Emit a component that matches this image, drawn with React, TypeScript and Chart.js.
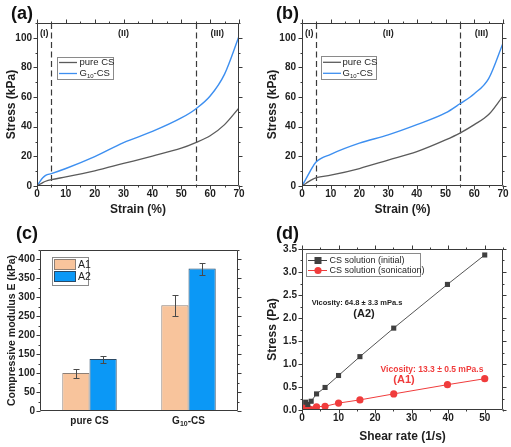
import React, { useEffect, useRef } from "react";
import { Chart, registerables } from "chart.js";
Chart.register(...registerables);

const FONT = "Arial, 'Liberation Sans', Helvetica, sans-serif";

// ---------- Data: panel (a) ----------
const strainA = [0, 1, 2, 3, 5, 10, 20, 30, 40, 50, 55, 60, 65, 70];
const pureA = [0, 1.2, 2.3, 3.2, 4.3, 6.1, 10.2, 15.2, 20.2, 25.5, 29.3, 33.9, 41.4, 52.7];
const g10A = [0, 3, 5.5, 7.2, 8.4, 11.8, 19.8, 29.3, 36.8, 45.9, 52, 60.7, 75.5, 101];

// ---------- Data: panel (b) ----------
const strainB = [0, 1, 2, 3, 4, 5, 10, 20, 30, 40, 50, 55, 60, 65, 70];
const pureB = [0, 1.3, 2.6, 3.8, 4.8, 5.6, 7.3, 11.8, 17.5, 23.2, 31.1, 35.7, 41.4, 48.2, 60.7];
const g10B = [0, 3.5, 7, 10.5, 13.8, 16.4, 21.4, 28.9, 34.5, 41.4, 49.3, 55.5, 62.3, 72.5, 96.4];

const strainSeries = ["pure CS", "G_{10}-CS"];
const regionLabels = ["(I)", "(II)", "(III)"];
const regionBounds = [5, 55];
const strainXTicks = [0, 10, 20, 30, 40, 50, 60, 70];
const strainYTicks = [0, 20, 40, 60, 80, 100];

// ---------- Data: panel (c) ----------
const modulusGroups = ["pure CS", "G_{10}-CS"];
const modulusSeries = ["A1", "A2"];
const modA1 = [100, 279];
const modA1Err = [12, 28];
const modA2 = [137, 376];
const modA2Err = [9, 16];
const modulusYTicks = [0, 50, 100, 150, 200, 250, 300, 350, 400];

// ---------- Data: panel (d) ----------
const shearRate = [1, 1.58, 2.51, 3.98, 6.31, 10, 15.85, 25.1, 39.8, 50];
const stressInitial = [0.17, 0.12, 0.19, 0.35, 0.49, 0.75, 1.16, 1.78, 2.73, 3.37];
const stressSonication = [0.06, 0.04, 0.01, 0.07, 0.08, 0.15, 0.22, 0.35, 0.55, 0.68];
const viscSeries = ["CS solution (initial)", "CS solution (sonication)"];
const viscNotes = ["Vicosity: 64.8 ± 3.3 mPa.s", "(A2)", "Vicosity: 13.3 ± 0.5 mPa.s", "(A1)"];
const shearXTicks = [0, 10, 20, 30, 40, 50];
const shearYTicks = [0, 0.5, 1, 1.5, 2, 2.5, 3, 3.5];

// ---------- colours ----------
const GREY = "#5b5b5b";
const BLUE = "#3d8ff0";
const PEACH = "#f8c49c";
const BAR_BLUE = "#0b98f6";
const DARK = "#404040";
const RED = "#f03c3c";
const INK = "#1e1e1e";

// ---------- helpers ----------
type Seg = { t: string; sub: boolean };
function parseRich(s: string): Seg[] {
  const out: Seg[] = [];
  const re = /_\{([^}]*)\}/g;
  let last = 0;
  let m: RegExpExecArray | null;
  while ((m = re.exec(s))) {
    if (m.index > last) out.push({ t: s.slice(last, m.index), sub: false });
    out.push({ t: m[1], sub: true });
    last = re.lastIndex;
  }
  if (last < s.length) out.push({ t: s.slice(last), sub: false });
  return out;
}
function drawRich(ctx: CanvasRenderingContext2D, s: string, x: number, y: number, size: number, weight: string, color: string, align: "left" | "center") {
  const segs = parseRich(s);
  const main = `${weight} ${size}px ${FONT}`;
  const subF = `${weight} ${Math.round(size * 0.68)}px ${FONT}`;
  let w = 0;
  for (const g of segs) {
    ctx.font = g.sub ? subF : main;
    w += ctx.measureText(g.t).width;
  }
  let cx = align === "center" ? x - w / 2 : x;
  ctx.fillStyle = color;
  ctx.textBaseline = "middle";
  ctx.textAlign = "left";
  for (const g of segs) {
    ctx.font = g.sub ? subF : main;
    ctx.fillText(g.t, cx, g.sub ? y + size * 0.28 : y);
    cx += ctx.measureText(g.t).width;
  }
}

function framePlugin(o: { yStep: number; yMinor: number; xStep?: number; xMinor?: number }) {
  return {
    id: "frame",
    afterDraw(chart: any) {
      const { ctx, chartArea: a, scales } = chart;
      const L = Math.round(a.left) + 0.5;
      const R = Math.round(a.right) - 0.5;
      const T = Math.round(a.top) + 0.5;
      const B = Math.round(a.bottom) - 0.5;
      ctx.save();
      ctx.strokeStyle = "#3a3a3a";
      ctx.lineWidth = 1;
      ctx.beginPath();
      ctx.rect(L, T, R - L, B - T);
      ctx.stroke();
      ctx.beginPath();
      const ys = scales.y;
      const ny = Math.round((ys.max - ys.min) / o.yMinor);
      for (let i = 0; i <= ny; i++) {
        const v = ys.min + i * o.yMinor;
        const r = v / o.yStep;
        const major = Math.abs(r - Math.round(r)) < 1e-6;
        const len = major ? 4 : 2;
        const p = Math.round(ys.getPixelForValue(v)) + 0.5;
        ctx.moveTo(L, p);
        ctx.lineTo(L - len, p);
        ctx.moveTo(R, p);
        ctx.lineTo(R + len, p);
      }
      if (o.xStep && o.xMinor) {
        const xs = scales.x;
        const nx = Math.round((xs.max - xs.min) / o.xMinor);
        for (let i = 0; i <= nx; i++) {
          const v = xs.min + i * o.xMinor;
          const r = v / o.xStep;
          const major = Math.abs(r - Math.round(r)) < 1e-6;
          const len = major ? 4 : 2;
          const p = Math.round(xs.getPixelForValue(v)) + 0.5;
          ctx.moveTo(p, B);
          ctx.lineTo(p, B + len);
          ctx.moveTo(p, T);
          ctx.lineTo(p, T - len);
        }
      }
      ctx.stroke();
      ctx.restore();
    },
  };
}

function tickFont(size = 10) {
  return { family: FONT, size, weight: "bold" as const };
}

function baseAxes(o: {
  W: number; H: number; area: { l: number; t: number; r: number; b: number };
  xMin: number; xMax: number; xTicks: number[]; yMin: number; yMax: number; yTicks: number[];
  xTitle: string; yTitle: string; xTitleY: number; yTitleX: number; yPad: number; xPad: number;
  yFmt?: (v: number) => string; yTitleSize?: number; xType?: string; xTicksDisplay?: boolean;
}) {
  const yts = o.yTitleSize ?? 12;
  const x: any = {
    type: o.xType ?? "linear",
    afterFit: (s: any) => { s.height = o.H - o.area.b; },
    grid: { display: false, drawTicks: false },
    border: { display: false },
    ticks: { display: o.xTicksDisplay ?? true, autoSkip: false, maxRotation: 0, padding: o.xPad, font: tickFont(10), color: INK },
    title: { display: true, text: o.xTitle, color: INK, font: { family: FONT, size: 12, weight: "bold" }, padding: { top: 0, bottom: o.H - o.xTitleY - 7.2 } },
  };
  if ((o.xType ?? "linear") === "linear") {
    x.min = o.xMin;
    x.max = o.xMax;
    x.afterBuildTicks = (s: any) => { s.ticks = o.xTicks.map((v) => ({ value: v })); };
  } else {
    x.offset = true;
  }
  const y: any = {
    type: "linear",
    min: o.yMin,
    max: o.yMax,
    afterFit: (s: any) => { s.width = o.area.l; },
    afterBuildTicks: (s: any) => { s.ticks = o.yTicks.map((v) => ({ value: v })); },
    grid: { display: false, drawTicks: false },
    border: { display: false },
    ticks: { autoSkip: false, padding: o.yPad, font: tickFont(10), color: INK, callback: o.yFmt ?? ((v: any) => String(v)) },
    title: { display: true, text: o.yTitle, color: INK, font: { family: FONT, size: yts, weight: "bold" }, padding: { top: o.yTitleX - (yts * 1.2) / 2, bottom: 0 } },
  };
  return { x, y };
}

// ---------- Strain panels (a), (b) ----------
type StrainLayout = {
  W: number; H: number; area: { l: number; t: number; r: number; b: number };
  panel: string; panelX: number; panelY: number; yTitleX: number; yPad: number;
  legend: { x: number; y: number; w: number; h: number; l0: number; l1: number; tx: number; rows: number[] };
};

function strainConfig(strain: number[], pure: number[], g10: number[], L: StrainLayout): any {
  const axes = baseAxes({
    W: L.W, H: L.H, area: L.area, xMin: 0, xMax: 70, xTicks: strainXTicks, yMin: 0, yMax: 110, yTicks: strainYTicks,
    xTitle: "Strain (%)", yTitle: "Stress (kPa)", xTitleY: 210, yTitleX: L.yTitleX, yPad: L.yPad, xPad: 2,
  });
  const deco = {
    id: "deco",
    beforeDatasetsDraw(chart: any) {
      const { ctx, chartArea: a, scales } = chart;
      ctx.save();
      ctx.strokeStyle = "#3a3a3a";
      ctx.lineWidth = 1.2;
      ctx.setLineDash([6, 3.5]);
      for (const v of regionBounds) {
        const p = Math.round(scales.x.getPixelForValue(v)) + 0.5;
        ctx.beginPath();
        ctx.moveTo(p, a.top);
        ctx.lineTo(p, a.bottom);
        ctx.stroke();
      }
      ctx.restore();
    },
    afterDraw(chart: any) {
      const { ctx, chartArea: a, scales } = chart;
      ctx.save();
      const edges = [0, ...regionBounds, 70];
      regionLabels.forEach((t, i) => {
        const c = scales.x.getPixelForValue((edges[i] + edges[i + 1]) / 2);
        drawRich(ctx, t, c, a.top + 11, 9, "bold", INK, "center");
      });
      drawRich(ctx, L.panel, L.panelX, L.panelY, 18, "bold", "#111", "left");
      const lg = L.legend;
      ctx.fillStyle = "#fff";
      ctx.fillRect(lg.x, lg.y, lg.w, lg.h);
      ctx.strokeStyle = "#8a8a8a";
      ctx.lineWidth = 1;
      ctx.strokeRect(lg.x + 0.5, lg.y + 0.5, lg.w, lg.h);
      [GREY, BLUE].forEach((c, i) => {
        ctx.strokeStyle = c;
        ctx.lineWidth = 1.3;
        ctx.beginPath();
        ctx.moveTo(lg.l0, lg.rows[i]);
        ctx.lineTo(lg.l1, lg.rows[i]);
        ctx.stroke();
        drawRich(ctx, strainSeries[i], lg.tx, lg.rows[i], 9.5, "normal", INK, "left");
      });
      ctx.restore();
    },
  };
  return {
    type: "line",
    data: {
      datasets: [
        { label: strainSeries[0], data: strain.map((x, i) => ({ x, y: pure[i] })), borderColor: GREY, borderWidth: 1.3, pointRadius: 0, cubicInterpolationMode: "monotone" },
        { label: strainSeries[1], data: strain.map((x, i) => ({ x, y: g10[i] })), borderColor: BLUE, borderWidth: 1.4, pointRadius: 0, cubicInterpolationMode: "monotone" },
      ],
    },
    options: {
      animation: false, responsive: false, events: [],
      layout: { padding: { left: 0, top: L.area.t, right: L.W - L.area.r, bottom: 0 } },
      plugins: { legend: { display: false }, tooltip: { enabled: false } },
      scales: axes,
    },
    plugins: [deco, framePlugin({ yStep: 20, yMinor: 10, xStep: 10, xMinor: 5 })],
  };
}

const layoutA: StrainLayout = {
  W: 256, H: 224, area: { l: 37, t: 23, r: 239, b: 186 }, panel: "(a)", panelX: 11, panelY: 14, yTitleX: 12, yPad: 5,
  legend: { x: 57, y: 57, w: 56, h: 22, l0: 59, l1: 77, tx: 79.5, rows: [62.5, 73.5] },
};
const layoutB: StrainLayout = {
  W: 255, H: 224, area: { l: 46, t: 23, r: 247, b: 186 }, panel: "(b)", panelX: 20, panelY: 14, yTitleX: 17, yPad: 6,
  legend: { x: 65, y: 56, w: 55, h: 23, l0: 67, l1: 85, tx: 86.5, rows: [62.3, 73.3] },
};

// ---------- Modulus panel (c) ----------
function modulusConfig(): any {
  const W = 256, H = 223;
  const area = { l: 40, t: 26, r: 238, b: 187 };
  const axes = baseAxes({
    W, H, area, xMin: 0, xMax: 1, xTicks: [], yMin: 0, yMax: 425, yTicks: modulusYTicks,
    xTitle: "", yTitle: "Compressive modulus E (kPa)", xTitleY: 215, yTitleX: 12, yPad: 5, xPad: 2,
    yTitleSize: 10.5, xType: "category", xTicksDisplay: false,
  });
  axes.x.title = { display: false };
  const deco = {
    id: "deco",
    afterDatasetsDraw(chart: any) {
      const { ctx, scales } = chart;
      ctx.save();
      ctx.strokeStyle = "#4a4a4a";
      ctx.lineWidth = 1;
      [modA1Err, modA2Err].forEach((errs, di) => {
        const meta = chart.getDatasetMeta(di);
        const vals = di === 0 ? modA1 : modA2;
        meta.data.forEach((bar: any, j: number) => {
          const x = Math.round(bar.x) + 0.5;
          const yt = Math.round(scales.y.getPixelForValue(vals[j] + errs[j])) + 0.5;
          const yb = Math.round(scales.y.getPixelForValue(vals[j] - errs[j])) + 0.5;
          ctx.beginPath();
          ctx.moveTo(x, yt); ctx.lineTo(x, yb);
          ctx.moveTo(x - 3, yt); ctx.lineTo(x + 3, yt);
          ctx.moveTo(x - 3, yb); ctx.lineTo(x + 3, yb);
          ctx.stroke();
        });
      });
      ctx.restore();
    },
    afterDraw(chart: any) {
      const { ctx, scales } = chart;
      ctx.save();
      modulusGroups.forEach((g, i) => {
        drawRich(ctx, g, scales.x.getPixelForValue(i), 197, 10, "bold", INK, "center");
      });
      drawRich(ctx, "(c)", 16, 10, 18, "bold", "#111", "left");
      // legend
      ctx.fillStyle = "#fff";
      ctx.fillRect(52, 33, 36, 28);
      ctx.strokeStyle = "#8a8a8a";
      ctx.lineWidth = 1;
      ctx.strokeRect(52.5, 33.5, 36, 28);
      [[PEACH, "#8c7f76"], [BAR_BLUE, "#2a4a66"]].forEach(([f, b], i) => {
        const y = 35 + i * 12;
        ctx.fillStyle = f;
        ctx.fillRect(54, y, 22, 11);
        ctx.strokeStyle = b;
        ctx.strokeRect(54.5, y + 0.5, 21, 10);
        drawRich(ctx, modulusSeries[i], 78, y + 6, 10.5, "normal", INK, "left");
      });
      ctx.restore();
    },
  };
  return {
    type: "bar",
    data: {
      labels: modulusGroups,
      datasets: [
        { label: modulusSeries[0], data: modA1, backgroundColor: PEACH, borderColor: "#8c7f76", borderWidth: 1, categoryPercentage: 0.55, barPercentage: 1 },
        { label: modulusSeries[1], data: modA2, backgroundColor: BAR_BLUE, borderColor: "#2a4a66", borderWidth: 1, categoryPercentage: 0.55, barPercentage: 1 },
      ],
    },
    options: {
      animation: false, responsive: false, events: [],
      layout: { padding: { left: 0, top: area.t, right: W - area.r, bottom: 0 } },
      plugins: { legend: { display: false }, tooltip: { enabled: false } },
      scales: axes,
    },
    plugins: [deco, framePlugin({ yStep: 50, yMinor: 25 })],
  };
}

// ---------- Viscosity panel (d) ----------
function viscConfig(): any {
  const W = 255, H = 223;
  const area = { l: 46, t: 25, r: 247, b: 186 };
  const axes = baseAxes({
    W, H, area, xMin: 0, xMax: 55, xTicks: shearXTicks, yMin: 0, yMax: 3.5, yTicks: shearYTicks,
    xTitle: "Shear rate (1/s)", yTitle: "Stress (Pa)", xTitleY: 213, yTitleX: 17, yPad: 5, xPad: 2,
    yFmt: (v: number) => v.toFixed(1),
  });
  const deco = {
    id: "deco",
    afterDraw(chart: any) {
      const { ctx } = chart;
      ctx.save();
      drawRich(ctx, "(d)", 20, 10.5, 18, "bold", "#111", "left");
      // legend
      ctx.fillStyle = "#fff";
      ctx.fillRect(50, 29, 114, 23);
      ctx.strokeStyle = "#8a8a8a";
      ctx.lineWidth = 1;
      ctx.strokeRect(50.5, 29.5, 114, 23);
      [[DARK, "rect"], [RED, "circle"]].forEach(([c, s], i) => {
        const y = 36 + i * 10;
        ctx.strokeStyle = c;
        ctx.fillStyle = c;
        ctx.lineWidth = 1;
        ctx.beginPath();
        ctx.moveTo(52, y + 0.5);
        ctx.lineTo(71, y + 0.5);
        ctx.stroke();
        if (s === "rect") ctx.fillRect(58.5, y - 3, 7, 7);
        else { ctx.beginPath(); ctx.arc(62, y + 0.5, 3.6, 0, Math.PI * 2); ctx.fill(); }
        drawRich(ctx, viscSeries[i], 73.5, y + 0.5, 9, "normal", INK, "left");
      });
      drawRich(ctx, viscNotes[0], 101, 79, 7.5, "bold", INK, "center");
      drawRich(ctx, viscNotes[1], 108, 89.5, 11, "bold", INK, "center");
      drawRich(ctx, viscNotes[2], 176, 145.5, 8.5, "bold", RED, "center");
      drawRich(ctx, viscNotes[3], 148, 155.5, 11, "bold", RED, "center");
      ctx.restore();
    },
  };
  return {
    type: "line",
    data: {
      datasets: [
        { label: viscSeries[0], data: shearRate.map((x, i) => ({ x, y: stressInitial[i] })), borderColor: "#555", borderWidth: 1, pointStyle: "rect", pointRadius: 3.6, pointBackgroundColor: DARK, pointBorderColor: DARK, pointBorderWidth: 0 },
        { label: viscSeries[1], data: shearRate.map((x, i) => ({ x, y: stressSonication[i] })), borderColor: RED, borderWidth: 1, pointStyle: "circle", pointRadius: 3.6, pointBackgroundColor: RED, pointBorderColor: RED, pointBorderWidth: 0 },
      ],
    },
    options: {
      animation: false, responsive: false, events: [],
      layout: { padding: { left: 0, top: area.t, right: W - area.r, bottom: 0 } },
      plugins: { legend: { display: false }, tooltip: { enabled: false } },
      scales: axes,
    },
    plugins: [deco, framePlugin({ yStep: 0.5, yMinor: 0.25, xStep: 10, xMinor: 5 })],
  };
}

function Panel(props: { left: number; top: number; width: number; height: number; make: () => any }) {
  const ref = useRef<HTMLCanvasElement>(null);
  useEffect(() => {
    const chart = new Chart(ref.current as HTMLCanvasElement, props.make());
    return () => chart.destroy();
  }, []);
  return (
    <canvas
      ref={ref}
      width={props.width}
      height={props.height}
      style={{ position: "absolute", left: props.left, top: props.top, width: props.width, height: props.height }}
    />
  );
}

export default function App() {
  return (
    <div style={{ position: "absolute", left: 0, top: 0, width: 511, height: 447, background: "#fff", overflow: "hidden" }}>
      <Panel left={0} top={0} width={256} height={224} make={() => strainConfig(strainA, pureA, g10A, layoutA)} />
      <Panel left={256} top={0} width={255} height={224} make={() => strainConfig(strainB, pureB, g10B, layoutB)} />
      <Panel left={0} top={224} width={256} height={223} make={modulusConfig} />
      <Panel left={256} top={224} width={255} height={223} make={viscConfig} />
    </div>
  );
}
